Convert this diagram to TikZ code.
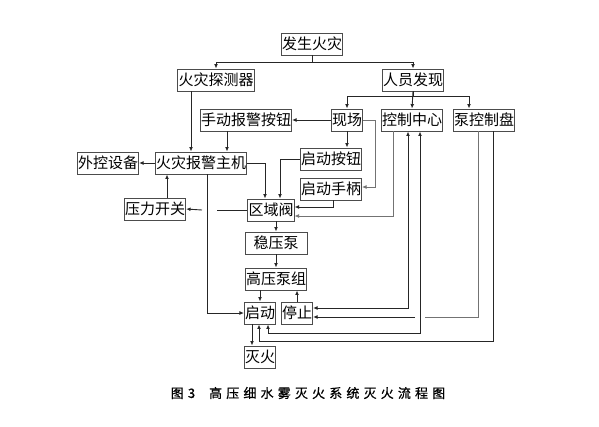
\documentclass[tikz,border=0pt]{standalone}
\usepackage{fontspec}
\usepackage{tikz}
\usetikzlibrary{arrows.meta,positioning}
\newfontfamily\cjk{Noto Sans CJK SC}
\newfontfamily\capfont[LetterSpace=32,FakeBold=0.8]{Noto Sans CJK SC}

\begin{document}
\begin{tikzpicture}[
  x=1pt, y=-1pt,
  >={Latex[length=4.5pt,width=3.8pt]},
  box/.style={draw=black!70, line width=0.9pt, fill=white, inner xsep=0.6pt, inner ysep=0pt,
              minimum height=22pt, font=\cjk\fontsize{15}{15}\selectfont},
  ln/.style={line width=0.9pt, black!85},
  gln/.style={line width=0.7pt, black!55},
  arr/.style={ln, ->},
  rarr/.style={ln, <-},
  darr/.style={ln, <->}
]
\useasboundingbox (0,0) rectangle (599,426);
% boxes
\node[box] (fire)   at (312,44)  {发生火灾};
\node[box] (det)    at (216,80)  {火灾探测器};
\node[box] (found)  at (413,80)  {人员发现};
\node[box] (manual) at (246,120) {手动报警按钮};
\node[box] (site)   at (347,120) {现场};
\node[box] (ctrl)   at (412,120) {控制中心};
\node[box] (panel)  at (484,120) {泵控制盘};
\node[box] (ext)    at (108,163) {外控设备};
\node[box] (host)   at (201,163) {火灾报警主机};
\node[box] (sbtn)   at (331,159) {启动按钮};
\node[box] (shdl)   at (331,189) {启动手柄};
\node[box] (psw)    at (155,209) {压力开关};
\node[box] (valve)  at (271,210) {区域阀};
\node[box, minimum width=62pt] (jockey) at (276,243) {稳压泵};
\node[box] (hpump)  at (276,279) {高压泵组};
\node[box] (start)  at (260,313) {启动};
\node[box] (stop)   at (297,313) {停止};
\node[box] (out)    at (260,357) {灭火};
\node[font=\capfont\fontsize{13}{13}\selectfont] (cap) at (308,393)
  {图3\hspace{14pt}高压细水雾灭火系统灭火流程图};
% gaps where lines cross
\coordinate (gapR) at (217,210);
\coordinate (gapL) at (202,210);
\coordinate (gapA) at (425,317);
\coordinate (gapB) at (415,317);
% connectors
\draw[arr] (fire.south) -- ++(0,7) -| (det.north);
\draw[arr] (fire.south) ++(0,7) -| (found.north);
\draw[arr] (found.south) -- ++(0,5) -| (site.north);
\draw[arr] (found.south) -- (ctrl.north);
\draw[arr] (found.south) ++(0,5) -| ([xshift=-15pt]panel.north);
\draw[arr] (site.west) -- (manual.east);
\draw[arr] (site.south) -- (site.south |- sbtn.north);
\draw[gln, ->] (site.east) -- ++(12,0) |- ([yshift=2pt]shdl.east);
\draw[arr] ([xshift=-25pt]det.south) -- ([xshift=-10pt]host.north);
\draw[arr] ([xshift=-19pt]manual.south) -- ([xshift=26pt]host.north);
\draw[arr] (host.west) -- (ext.east);
\draw[arr] (host.east) -| ([xshift=-6pt]valve.north);
\draw[arr] (sbtn.west) -| ([xshift=9pt]valve.north);
\draw[arr] ([xshift=2pt]shdl.south) |- ([yshift=3pt]valve.east);
\draw[gln, ->] ([xshift=-19pt]ctrl.south) |- ([yshift=-6pt]valve.east);
\draw[ln] (valve.west) -- (gapR);
\draw[arr] (gapL) -- (psw.east);
\draw[arr] ([xshift=12pt]psw.north) -- ([xshift=-34pt]host.south);
\draw[arr] ([xshift=6pt]host.south) |- (start.west);
\draw[arr] (jockey.north |- valve.south) -- (jockey.north);
\draw[arr] (jockey.south) -- (hpump.north);
\draw[arr] (start.north |- hpump.south) -- (start.north);
\draw[arr] (stop.north) -- (stop.north |- hpump.south);
\draw[arr] ([xshift=-8pt]start.south) -- ([xshift=-8pt]out.north);
\draw[darr] ([yshift=5pt]stop.east) -| ([xshift=-4pt]ctrl.south);
\draw[darr] ([xshift=8pt]start.south) -- ++(0,9) -| ([xshift=8pt]ctrl.south);
\draw[gln] ([xshift=-6pt]panel.south) |- (gapA);
\draw[arr] (gapB) -- ([yshift=-4pt]stop.east);
\draw[rarr] ([xshift=-1pt]start.south) -- ++(0,17) -| ([xshift=9pt]panel.south);
\end{tikzpicture}
\end{document}
